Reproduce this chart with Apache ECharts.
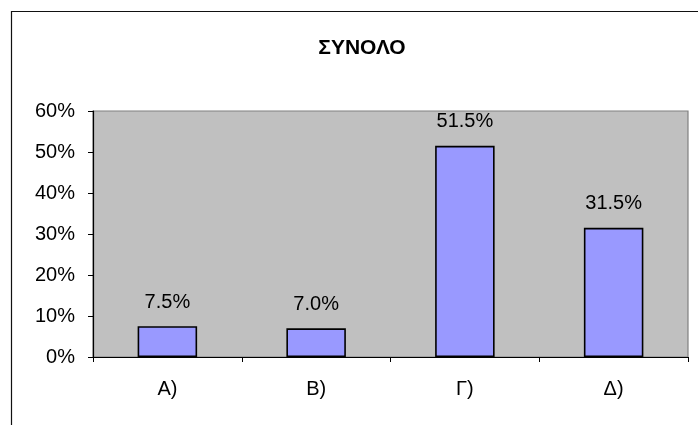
<!DOCTYPE html>
<html>
<head>
<meta charset="utf-8">
<script src="https://cdn.jsdelivr.net/npm/echarts@6/dist/echarts.min.js"></script>
<style>
  html, body { margin: 0; padding: 0; background: #fff; }
  #chart { width: 698px; height: 425px; }
</style>
</head>
<body>
<div id="chart"></div>
<script>
// Survey answer shares (percent of total responses)
const chartTitle = 'ΣΥΝΟΛΟ';
const categories = ['A)', 'B)', 'Γ)', 'Δ)'];
const shares = [7.5, 7.0, 51.5, 31.5];
const yTicks = { min: 0, max: 60, step: 10 };

const FONT = '"Liberation Sans", Arial, sans-serif';

const chart = echarts.init(document.getElementById('chart'), null, { renderer: 'canvas' });

chart.setOption({
  animation: false,
  backgroundColor: '#ffffff',
  title: {
    text: chartTitle,
    left: 357,
    top: 33,
    textAlign: 'center',
    textStyle: { fontFamily: FONT, fontSize: 21, fontWeight: 'bold', color: '#000' }
  },
  graphic: [{
    // outer chart-area frame
    type: 'rect',
    shape: { x: 11.5, y: 11.5, width: 720, height: 440 },
    style: { fill: 'none', stroke: '#111', lineWidth: 1.2 },
    silent: true,
    z: -1
  }],
  grid: {
    left: 93,
    top: 111,
    right: 10,
    bottom: 68,
    show: true,
    backgroundColor: '#c0c0c0',
    borderColor: '#808080',
    borderWidth: 1.2
  },
  xAxis: {
    type: 'category',
    data: categories,
    boundaryGap: true,
    axisLine: { show: true, lineStyle: { color: '#000', width: 1.2 } },
    axisTick: { show: true, length: 5, lineStyle: { color: '#000', width: 1 } },
    axisLabel: { margin: 22, fontFamily: FONT, fontSize: 20, color: '#000' },
    splitLine: { show: false }
  },
  yAxis: {
    type: 'value',
    min: yTicks.min,
    max: yTicks.max,
    interval: yTicks.step,
    axisLine: { show: true, lineStyle: { color: '#000', width: 1.2 } },
    axisTick: { show: true, length: 5, lineStyle: { color: '#000', width: 1 } },
    axisLabel: {
      margin: 18,
      fontFamily: FONT,
      fontSize: 20,
      color: '#000',
      formatter: v => v + '%'
    },
    splitLine: { show: false }
  },
  series: [{
    type: 'bar',
    data: shares,
    barWidth: '40%',
    itemStyle: { color: '#9999ff', borderColor: '#000', borderWidth: 1.6 },
    label: {
      show: true,
      position: 'top',
      distance: 14,
      fontFamily: FONT,
      fontSize: 20,
      color: '#000',
      formatter: p => p.value.toFixed(1) + '%'
    }
  }]
});
</script>
</body>
</html>
